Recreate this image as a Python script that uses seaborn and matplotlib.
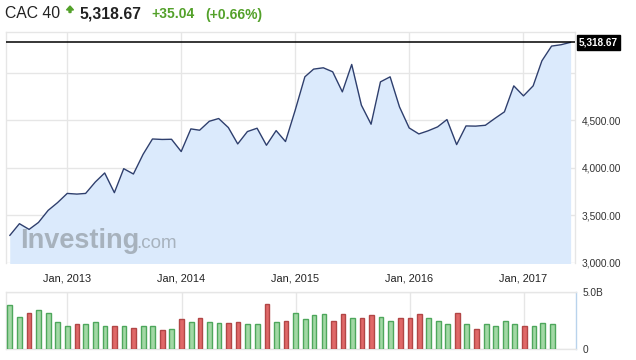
import numpy as np
import pandas as pd
import matplotlib
matplotlib.use("Agg")
import matplotlib.pyplot as plt
import matplotlib.dates as mdates
from matplotlib.patches import FancyArrow
from matplotlib.transforms import IdentityTransform, blended_transform_factory
import seaborn as sns

# ---------------- data ----------------
title = "CAC 40"
last_price = 5318.67
change = "+35.04"
change_pct = "(+0.66%)"

close = [3289, 3413, 3353, 3426, 3553, 3634,
         3731, 3724, 3731, 3851, 3946, 3739, 3991, 3935, 4142, 4303, 4298, 4300,
         4171, 4409, 4395, 4489, 4518, 4423, 4251, 4381, 4416, 4237, 4391, 4276,
         4605, 4956, 5037, 5051, 5009, 4798, 5086, 4658, 4458, 4903, 4956, 4640,
         4419, 4356, 4388, 4430, 4507, 4244, 4440, 4438, 4447, 4518, 4588, 4861,
         4756, 4861, 5124, 5279, 5293, 5318.67]

volume_b = [3.82, 2.85, 3.20, 3.38, 3.20, 2.41,
            2.06, 2.23, 2.23, 2.41, 2.06, 2.06, 2.06, 1.88, 2.06, 2.06, 1.71, 1.79,
            2.59, 2.41, 2.76, 2.41, 2.32, 2.32, 2.41, 2.23, 2.23, 3.91, 2.41, 2.50,
            3.12, 2.59, 2.94, 3.03, 2.50, 3.03, 2.76, 2.68, 2.94, 2.85, 2.50, 2.76,
            2.76, 3.03, 2.76, 2.50, 2.15, 3.12, 2.15, 1.79, 2.23, 2.06, 2.50, 2.15,
            2.06, 2.06, 2.32, 2.15]

up = [1, 1, 0, 1, 1, 1,
      1, 0, 1, 1, 1, 0, 1, 0, 1, 1, 0, 1,
      0, 1, 0, 1, 1, 0, 0, 1, 1, 0, 1, 0,
      1, 1, 1, 1, 0, 0, 1, 0, 0, 1, 1, 0,
      0, 0, 1, 1, 1, 0, 1, 0, 1, 1, 1, 1,
      0, 1, 1, 1]

price_ticks = [3000, 3500, 4000, 4500, 5000]
price_labels = ["3,000.00", "3,500.00", "4,000.00", "4,500.00", ""]
year_ticks = ["2013-01-01", "2014-01-01", "2015-01-01", "2016-01-01", "2017-01-01"]
year_labels = ["Jan, 2013", "Jan, 2014", "Jan, 2015", "Jan, 2016", "Jan, 2017"]
vol_ticks = [0, 5.0]
vol_labels = ["0", "5.0B"]

price_dates = pd.date_range("2012-07-01", periods=len(close), freq="MS")
vol_dates = pd.date_range("2012-07-01", periods=len(volume_b), freq="MS")
df = pd.DataFrame({"date": price_dates, "close": close})
vdf = pd.DataFrame({"date": vol_dates, "vol": volume_b, "up": up})

# ---------------- style ----------------
sns.set_theme(style="white")
plt.rcParams["font.family"] = ["Liberation Sans", "DejaVu Sans"]

W, H = 636, 360
fig = plt.figure(figsize=(W / 100, H / 100), dpi=100)
fig.patch.set_facecolor("white")

grid_c = "#e6e6e6"
txt_c = "#333333"

xmin = pd.Timestamp("2012-06-19")
xmax = pd.Timestamp("2017-06-15")
xt = pd.to_datetime(year_ticks)

# price panel
ax1 = fig.add_axes([6 / W, 1 - 263 / H, 569 / W, 231 / H])
ax1.fill_between(df["date"], df["close"], 2900, color="#dbeafc", lw=0, zorder=1)
sns.lineplot(data=df, x="date", y="close", ax=ax1, color="#2e3f6e", lw=1.0, zorder=3)
ax1.axhline(last_price, color="black", lw=1.1, zorder=4)
ax1.set_xlim(xmin, xmax)
ax1.set_ylim(3000, 5427)
ax1.set_xticks(xt)
ax1.set_xticklabels(year_labels)
ax1.set_yticks(price_ticks)
ax1.set_yticklabels(price_labels)
ax1.yaxis.tick_right()
ax1.tick_params(axis="y", length=0, pad=5, labelsize=7.3, labelcolor=txt_c)
ax1.tick_params(axis="x", length=0, pad=7.5, labelsize=7.9, labelcolor="#222222")
ax1.grid(True, color=grid_c, lw=1, zorder=0)
ax1.set_axisbelow(True)
ax1.set_xlabel("")
ax1.set_ylabel("")
for s in ["left", "top", "right"]:
    ax1.spines[s].set_color(grid_c)
    ax1.spines[s].set_linewidth(1)
ax1.spines["bottom"].set_visible(False)

# current price tag
tr = blended_transform_factory(ax1.transAxes, ax1.transData)
ax1.text(1.0 + 4 / 569, last_price, "5,318.67", transform=tr, ha="left", va="center",
         fontsize=7.2, fontweight="bold", color="white", zorder=6,
         bbox=dict(boxstyle="square,pad=0.22", fc="black", ec="black"))

# watermark
ax1.text((20 - 6) / 569, (262.5 - 241) / 231, "Investing", transform=ax1.transAxes,
         fontsize=19.5, fontweight="bold", color="#a7b2bd", ha="left", va="center", zorder=2)
ax1.text((136 - 6) / 569, (262.5 - 243) / 231, ".com", transform=ax1.transAxes,
         fontsize=13.5, color="#a7b2bd", ha="left", va="center", zorder=2)

# volume panel
ax2 = fig.add_axes([6 / W, 1 - 349 / H, 570 / W, 57 / H])
fills = ["#a2d8a5" if u else "#e06868" for u in vdf["up"]]
edges = ["#4ea75c" if u else "#b24646" for u in vdf["up"]]
ax2.bar(vdf["date"], vdf["vol"], width=15, color=fills, edgecolor=edges, linewidth=1.0, zorder=3)
ax2.set_xlim(xmin, xmax)
ax2.set_ylim(0, 5.0)
ax2.set_xticks(xt)
ax2.set_xticklabels([])
ax2.set_yticks(vol_ticks)
ax2.set_yticklabels(vol_labels)
ax2.yaxis.tick_right()
ax2.tick_params(axis="y", length=0, pad=5, labelsize=7.3, labelcolor=txt_c)
ax2.tick_params(axis="x", length=0)
ax2.grid(True, color=grid_c, lw=1, zorder=0)
ax2.set_axisbelow(True)
for s in ["left", "top", "bottom"]:
    ax2.spines[s].set_color(grid_c)
    ax2.spines[s].set_linewidth(1)
ax2.spines["right"].set_color("#b9d3ec")
ax2.spines["right"].set_linewidth(1)

# header
base_y = 1 - 18.5 / H
fig.text(5 / W, base_y, title, fontsize=11.3, color="#222222", va="baseline", ha="left")
fig.text(80 / W, base_y, "5,318.67", fontsize=11.3, fontweight="bold", color="#222222",
         va="baseline", ha="left")
fig.text(151 / W, base_y, change, fontsize=10, fontweight="bold", color="#53a12a",
         va="baseline", ha="left")
fig.text(205 / W, base_y, change_pct, fontsize=10, fontweight="bold", color="#53a12a",
         va="baseline", ha="left")
arrow = FancyArrow(70, H - 12.5, 0, 6.5, width=2.0, head_width=7, head_length=4,
                   length_includes_head=True, color="#53a12a", transform=IdentityTransform())
fig.add_artist(arrow)

fig.savefig("out.png", dpi=100)
